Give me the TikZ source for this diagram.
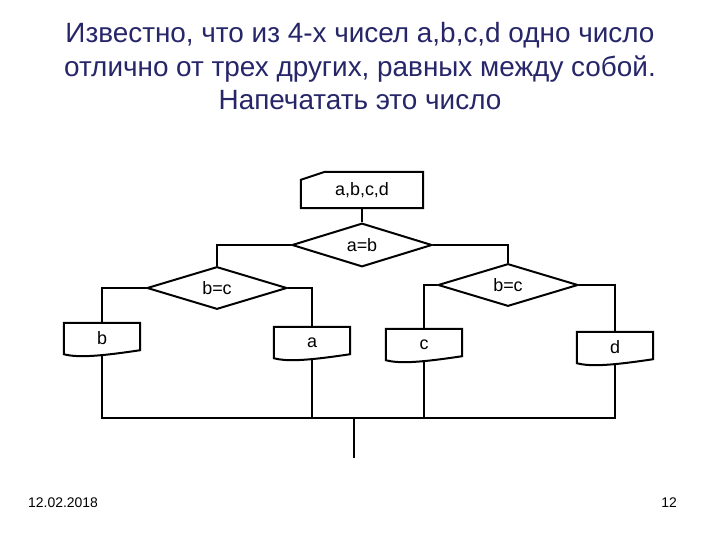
\documentclass[tikz,border=0pt]{standalone}
\usepackage{fontspec}
\setmainfont{Liberation Sans}
\usetikzlibrary{shapes.geometric,calc}
\definecolor{titlecol}{RGB}{38,38,105}
\tikzset{
  ln/.style={line width=2bp, line join=miter},
  lbl/.style={font=\fontsize{18}{20}\selectfont, inner sep=0pt},
  dia/.style={diamond, lbl, minimum width=140bp, minimum height=38bp, draw, ln},
  docbox/.style={lbl, minimum width=76bp, minimum height=31bp},
  inbox/.style={lbl, minimum width=122bp, minimum height=36bp},
  ttl/.style={anchor=base, text=titlecol, font=\fontsize{28}{33}\selectfont, inner sep=0pt},
}
\newcommand\docshape[1]{%
  \draw[ln] (#1.north west) -- (#1.north east) -- ([yshift=4bp]#1.south east)
    .. controls ([xshift=-5bp,yshift=-2.5bp]#1.south) and ([xshift=-25bp,yshift=-3.5bp]#1.south) .. (#1.south west) -- cycle;}
\begin{document}
\begin{tikzpicture}[x=1bp,y=-1bp]
\useasboundingbox (0,0) rectangle (720,540);
\fill[white] (0,0) rectangle (720,540);
\node[ttl] (t1) at (360,43) {Известно, что из 4-х чисел a,b,c,d одно число};
\node[ttl] (t2) at (360,76.5) {отлично от трех других, равных между собой.};
\node[ttl] (t3) at (360,110) {Напечатать это число};
% input
\node[inbox] (in) at (362,190) {a,b,c,d};
\draw[ln] (in.south west) -- ([yshift=-8bp]in.north west) -- ([xshift=24bp]in.north west) -- (in.north east) -- (in.south east) -- cycle;
% decisions
\node[dia] (ab) at (362,245) {a=b};
\node[dia] (L) at (217,288) {b=c};
\node[dia, minimum height=36bp] (R) at (508,285) {b=c};
% outputs
\node[docbox] (b) at (102,338.5) {b};
\node[docbox] (a) at (312,342.5) {a};
\node[docbox] (c) at (424,344.5) {c};
\node[docbox] (d) at (615,347.5) {d};
\docshape{b}\docshape{a}\docshape{c}\docshape{d}
% connectors
\draw[ln] (in.south) -- (ab.north);
\draw[ln] (ab.west) -| (L.north);
\draw[ln] (ab.east) -| (R.north);
\draw[ln] (L.west) -| (b.north);
\draw[ln] (L.east) -| (a.north);
\draw[ln] (R.west) -| (c.north);
\draw[ln] (R.east) -| (d.north);
\coordinate (busL) at (102,418);
\coordinate (busR) at (615,418);
\coordinate (busM) at (354,418);
\coordinate (out) at (354,458);
\draw[ln] (b.south) -- (busL) -- (busR) -- (d.south);
\draw[ln] (a.south) -- (a.south |- busL);
\draw[ln] (c.south) -- (c.south |- busL);
\draw[ln] (busM) -- (out);
% footer
\node[anchor=west, font=\fontsize{14}{16}\selectfont, inner sep=0pt] (date) at (28,503) {12.02.2018};
\node[anchor=east, font=\fontsize{14}{16}\selectfont, inner sep=0pt] (page) at (677,503) {12};
\end{tikzpicture}
\end{document}
